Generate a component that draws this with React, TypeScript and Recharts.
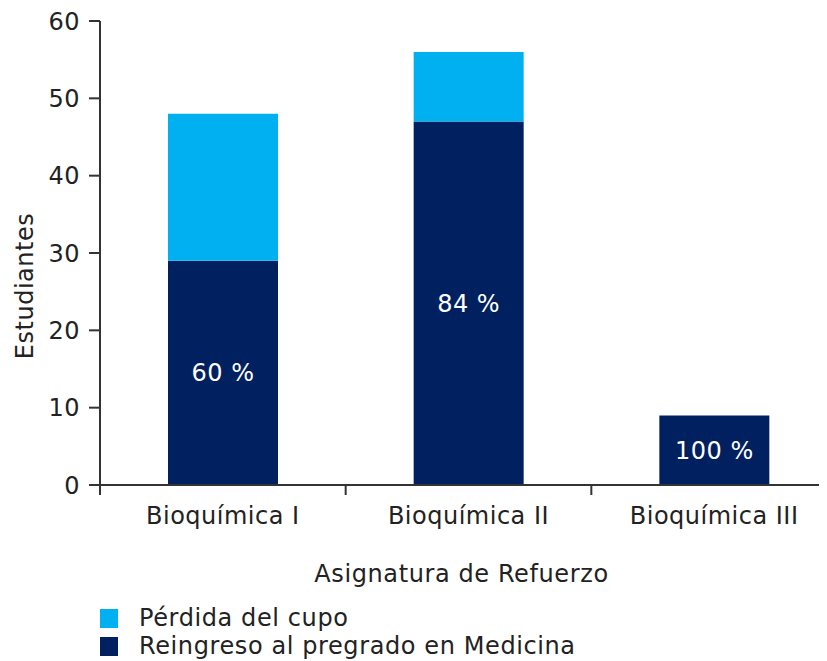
import React from 'react';
import { BarChart, Bar, XAxis, YAxis, LabelList, Legend } from 'recharts';

const categories = ['Bioquímica I', 'Bioquímica II', 'Bioquímica III'];
const reingreso = [29, 47, 9];
const perdida = [19, 9, 0];
const pctLabels = ['60 %', '84 %', '100 %'];
const yTicks = [0, 10, 20, 30, 40, 50, 60];

const seriesNames = ['Pérdida del cupo', 'Reingreso al pregrado en Medicina'];
const seriesColors = ['#00B0F0', '#002060'];

const data = categories.map((c, i) => ({
  name: c,
  reingreso: reingreso[i],
  perdida: perdida[i],
  pct: pctLabels[i],
}));

const FONT = '"DejaVu Sans", Verdana, sans-serif';
const TEXT = '#222';
const AXIS = '#333';
const LS = 0.5;

const LegendContent = () => (
  <div style={{ fontFamily: FONT, fontSize: 24, color: TEXT, letterSpacing: 0.6 }}>
    {seriesNames.map((n, i) => (
      <div key={n} style={{ display: 'flex', alignItems: 'center', height: 28, lineHeight: '28px' }}>
        <span style={{ display: 'inline-block', width: 18, height: 19, background: seriesColors[i], marginRight: 21 }} />
        <span>{n}</span>
      </div>
    ))}
  </div>
);

// Category tick: label at band centre, tick mark at the band's left boundary
const CatTick = (props: any) => {
  const { x, y, payload } = props;
  const half = payload && payload.offset ? payload.offset : 0;
  const axisY = y - 22;
  return (
    <g>
      <line x1={x - half} x2={x - half} y1={axisY} y2={axisY + 10} stroke={AXIS} strokeWidth={2} />
      <text
        x={x}
        y={y}
        dy="0.71em"
        textAnchor="middle"
        fill={TEXT}
        fontSize={24}
        fontFamily={FONT}
        letterSpacing={LS}
      >
        {payload.value}
      </text>
    </g>
  );
};

export default function App() {
  return (
    <div style={{ width: 829, height: 653 }}>
      <BarChart
        width={829}
        height={653}
        data={data}
        margin={{ top: 13, right: 0, bottom: 175, left: 0 }}
        style={{ fontFamily: FONT }}
      >
        <YAxis
          type="number"
          domain={[0, 60]}
          ticks={yTicks}
          width={92}
          tickSize={11}
          tickMargin={9}
          stroke={AXIS}
          strokeWidth={2}
          tick={{ fill: TEXT, fontSize: 24, fontFamily: FONT, letterSpacing: LS }}
          label={{
            content: (props: any) => {
              const vb = props.viewBox || { x: 0, y: 13, width: 92, height: 464 };
              const x = vb.x + 25;
              const y = vb.y + vb.height / 2 + 33;
              return (
                <text
                  x={x}
                  y={y}
                  transform={`rotate(-90, ${x}, ${y})`}
                  textAnchor="middle"
                  fill={TEXT}
                  fontSize={24}
                  fontFamily={FONT}
                  letterSpacing={LS}
                >
                  Estudiantes
                </text>
              );
            },
          }}
        />
        <XAxis
          xAxisId="cat"
          dataKey="name"
          type="category"
          height={1}
          stroke={AXIS}
          strokeWidth={2}
          tickLine={false}
          tickSize={0}
          tickMargin={22}
          interval={0}
          tick={<CatTick />}
          label={{
            content: (props: any) => {
              const vb = props.viewBox || { x: 92, y: 477, width: 737, height: 0 };
              return (
                <text
                  x={vb.x + vb.width / 2 - 7}
                  y={vb.y + 97}
                  textAnchor="middle"
                  fill={TEXT}
                  fontSize={24}
                  fontFamily={FONT}
                  letterSpacing={0.6}
                >
                  Asignatura de Refuerzo
                </text>
              );
            },
          }}
        />
        <Legend
          layout="vertical"
          align="center"
          verticalAlign="middle"
          wrapperStyle={{ top: 596, left: 92, width: 640 }}
          content={<LegendContent />}
        />
        <Bar
          xAxisId="cat"
          dataKey="reingreso"
          name={seriesNames[1]}
          stackId="a"
          fill={seriesColors[1]}
          barSize={110}
          isAnimationActive={false}
        >
          <LabelList dataKey="pct" position="center" fill="#fff" fontSize={24} fontFamily={FONT} letterSpacing={LS} />
        </Bar>
        <Bar
          xAxisId="cat"
          dataKey="perdida"
          name={seriesNames[0]}
          stackId="a"
          fill={seriesColors[0]}
          barSize={110}
          isAnimationActive={false}
        />
      </BarChart>
    </div>
  );
}
